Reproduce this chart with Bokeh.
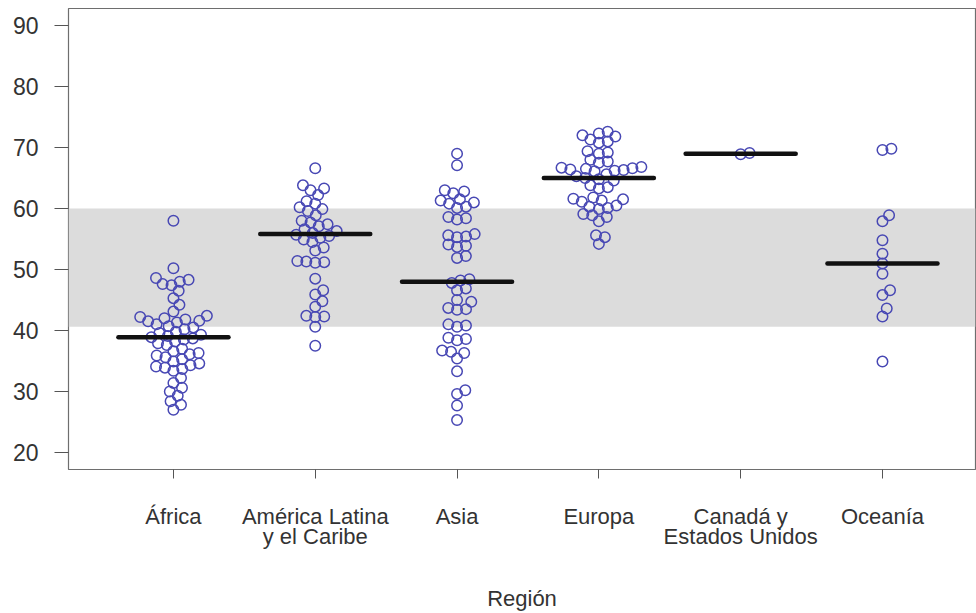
import numpy as np
from bokeh.plotting import figure
from bokeh.models import Range1d, FixedTicker, BoxAnnotation
from bokeh.embed import file_html
from bokeh.resources import INLINE

# ---------------- data ----------------
regions = ["África", "América Latina\ny el Caribe", "Asia", "Europa",
           "Canadá y\nEstados Unidos", "Oceanía"]

africa = [58.0, 50.2, 48.6, 48.3, 48.0, 47.6, 47.4, 46.5, 45.3, 44.2, 43.1, 42.4,
          42.2, 42.0, 41.8, 41.6, 41.5, 41.3, 41.0, 40.7, 40.5, 40.2, 39.8, 39.6,
          39.3, 39.1, 38.9, 38.7, 38.5, 38.2, 37.9, 37.6, 37.0, 36.6, 36.3, 36.1,
          35.9, 35.6, 35.3, 34.9, 34.6, 34.3, 34.1, 33.9, 33.7, 33.4, 32.2, 31.4,
          30.6, 30.0, 29.3, 28.4, 27.8, 27.0]
latam = [66.6, 63.8, 63.3, 63.0, 62.2, 61.2, 60.8, 60.2, 59.9, 59.6, 58.9, 58.0,
         57.7, 57.4, 57.1, 56.6, 56.3, 56.0, 55.7, 55.5, 55.2, 54.9, 54.5, 53.6,
         53.1, 51.4, 51.3, 51.2, 51.1, 48.5, 46.6, 45.9, 44.8, 43.9, 42.4, 42.3,
         42.2, 40.6, 37.5]
asia = [69.0, 67.1, 63.0, 62.8, 62.5, 61.5, 61.3, 61.0, 60.8, 60.3, 60.1, 58.6,
        58.4, 58.2, 55.8, 55.6, 55.4, 55.3, 54.1, 53.9, 53.7, 52.2, 51.9, 48.4,
        48.2, 47.8, 46.9, 46.6, 45.0, 44.7, 43.7, 43.5, 43.4, 41.0, 40.8, 40.6,
        38.8, 38.6, 38.4, 36.7, 36.5, 36.3, 35.4, 33.3, 30.2, 29.6, 27.7, 25.3]
europa = [72.6, 72.3, 72.0, 71.8, 71.3, 71.0, 70.8, 69.4, 69.2, 69.0, 68.0, 67.7,
          67.5, 66.8, 66.7, 66.6, 66.5, 66.4, 66.3, 66.2, 66.1, 65.6, 65.3, 65.0,
          64.8, 64.6, 63.8, 63.5, 63.3, 61.8, 61.6, 61.5, 61.3, 61.1, 60.5, 60.3,
          60.1, 59.9, 59.1, 58.9, 58.6, 57.9, 55.6, 55.3, 54.2]
canada_us = [68.9, 69.1]
oceania = [69.8, 69.6, 58.9, 57.9, 54.8, 52.6, 51.0, 49.3, 46.6, 45.8, 43.6, 42.3, 34.9]

medians = [38.9, 55.8, 48.0, 65.0, 69.0, 51.0]
band_low, band_high = 40.6, 60.0
y_ticks = [20, 30, 40, 50, 60, 70, 80, 90]

groups = [africa, latam, asia, europa, canada_us, oceania]

# ---------------- layout ----------------
W, H = 976, 613
BL, BR, BT, BB = 68, 1, 8, 144
x_start, x_end = 0.26, 6.656
y_start, y_end = 17.2, 92.8
sx = (W - BL - BR) / (x_end - x_start)   # px per x unit
sy = (H - BT - BB) / (y_end - y_start)   # px per y unit


def swarm(vals, d):
    """Beeswarm offsets (x data units) so circles don't overlap more than d px."""
    vals = np.asarray(vals, dtype=float)
    order = np.argsort(vals, kind="stable")
    placed = []
    offs = np.zeros(len(vals))
    for i in order:
        y = vals[i] * sy
        cands = [0.0]
        for xj, yj in placed:
            dy = abs(y - yj)
            if dy < d:
                dx = np.sqrt(d * d - dy * dy)
                cands += [xj + dx, xj - dx]
        cands = sorted(cands, key=lambda c: (abs(c), -c))
        chosen = 0.0
        for c in cands:
            if all((c - xj) ** 2 + (y - yj) ** 2 >= d * d - 1e-6 for xj, yj in placed):
                chosen = c
                break
        placed.append((chosen, y))
        offs[i] = chosen / sx
    return offs


p = figure(width=W, height=H, output_backend="svg", toolbar_location=None,
           x_range=Range1d(x_start, x_end), y_range=Range1d(y_start, y_end),
           min_border_left=BL, min_border_right=BR, min_border_top=BT,
           min_border_bottom=BB)
p.xgrid.visible = False
p.ygrid.visible = False
p.outline_line_color = "#6e6e6e"
p.outline_line_width = 1.2
p.background_fill_color = "white"

band = BoxAnnotation(bottom=band_low, top=band_high, fill_color="#DCDCDC",
                     fill_alpha=1.0, line_color=None, level="underlay")
p.add_layout(band)

xs_all, ys_all = [], []
for k, vals in enumerate(groups):
    offs = swarm(vals, 9.0)
    xs_all += list((k + 1) + offs)
    ys_all += list(vals)

p.scatter(xs_all, ys_all, marker="circle", size=10.5, fill_color=None,
          line_color="#4848B4", line_width=1.5)

cats = np.arange(1, len(regions) + 1)
p.segment(x0=cats - 0.388, x1=cats + 0.388, y0=medians, y1=medians,
          line_width=4.5, line_color="#111111", line_cap="round")

font = "Liberation Sans"
label_color = "#333333"
# y axis
p.yaxis.ticker = FixedTicker(ticks=y_ticks)
p.yaxis.minor_tick_line_color = None
p.yaxis.axis_line_color = None
p.yaxis.major_tick_in = 0
p.yaxis.major_tick_out = 14
p.yaxis.major_tick_line_color = "#555555"
p.yaxis.major_label_text_font = font
p.yaxis.major_label_text_font_size = "23px"
p.yaxis.major_label_text_color = label_color
p.yaxis.major_label_standoff = 16

# x axis
p.xaxis.ticker = FixedTicker(ticks=list(cats))
p.xaxis.major_label_overrides = {int(c): r for c, r in zip(cats, regions)}
p.xaxis.minor_tick_line_color = None
p.xaxis.axis_line_color = None
p.xaxis.major_tick_in = 0
p.xaxis.major_tick_out = 9
p.xaxis.major_tick_line_color = "#555555"
p.xaxis.major_label_text_font = font
p.xaxis.major_label_text_font_size = "22px"
p.xaxis.major_label_text_line_height = 0.8
p.xaxis.major_label_text_color = label_color
p.xaxis.major_label_standoff = 25
p.xaxis.axis_label = "Región"
p.xaxis.axis_label_text_font = font
p.xaxis.axis_label_text_font_style = "normal"
p.xaxis.axis_label_text_font_size = "22px"
p.xaxis.axis_label_text_color = label_color
p.xaxis.axis_label_standoff = 34

open("out.html", "w").write(file_html(p, INLINE))
